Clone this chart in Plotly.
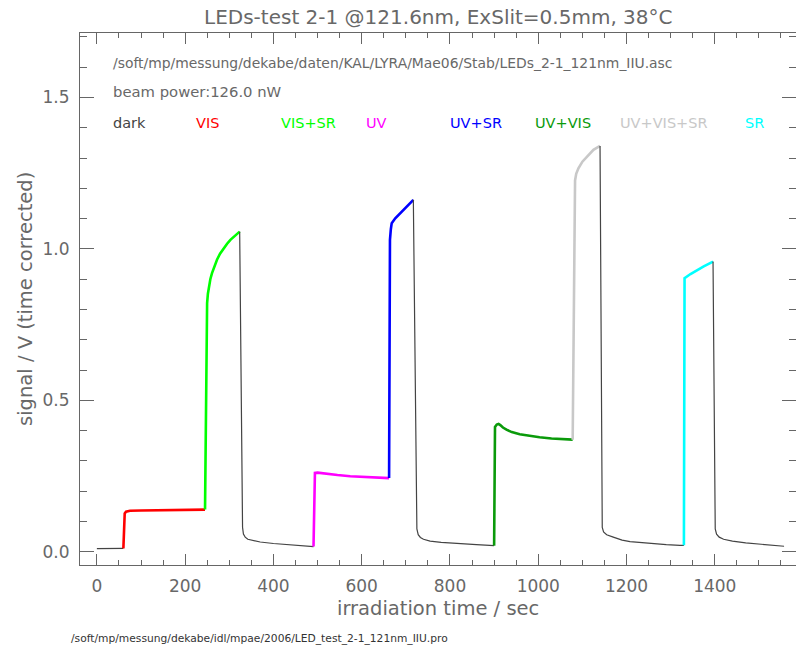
import plotly.graph_objects as go

# ---- measured signal per illumination phase (time in s, signal in V) ----
t_dark0 = [0, 20, 40, 60]
v_dark0 = [0.010, 0.010, 0.011, 0.011]

t_vis = [60, 61.5, 63, 66, 75, 100, 150, 200, 245]
v_vis = [0.011, 0.09, 0.126, 0.132, 0.135, 0.136, 0.137, 0.138, 0.139]

t_vis_sr = [245, 247, 249.7, 251.5, 253.4, 257, 260.8, 266, 272.1, 279, 287.3, 295,
            302.5, 312, 323.5]
v_vis_sr = [0.139, 0.55, 0.821, 0.852, 0.876, 0.900, 0.920, 0.944, 0.964, 0.984, 1.002,
            1.017, 1.030, 1.043, 1.057]

t_dark1 = [323.5, 326, 328.5, 330, 332, 336, 342, 355, 370, 400, 445, 490.8]
v_dark1 = [1.057, 0.70, 0.25, 0.08, 0.058, 0.048, 0.041, 0.036, 0.032, 0.027, 0.022, 0.017]

t_uv = [490.8, 492, 494, 500, 520, 545, 574, 620, 662]
v_uv = [0.017, 0.20, 0.260, 0.261, 0.257, 0.253, 0.249, 0.246, 0.243]

t_uv_sr = [662, 663, 664, 666, 668, 676, 687, 700, 717]
v_uv_sr = [0.243, 0.70, 1.030, 1.065, 1.085, 1.101, 1.118, 1.138, 1.162]

t_dark2 = [717, 720, 723, 725, 728, 733, 740, 755, 780, 820, 860, 900]
v_dark2 = [1.162, 0.70, 0.20, 0.075, 0.056, 0.047, 0.041, 0.035, 0.031, 0.026, 0.023, 0.020]

t_uv_vis = [900, 901, 902, 906, 910, 914, 920, 928, 940, 958, 980, 1003, 1030, 1049, 1078]
v_uv_vis = [0.020, 0.30, 0.412, 0.420, 0.422, 0.418, 0.410, 0.403, 0.395, 0.388, 0.382,
            0.378, 0.374, 0.372, 0.370]

t_uv_vis_sr = [1078, 1080, 1082, 1083.4, 1086, 1091, 1100, 1110, 1125, 1140]
v_uv_vis_sr = [0.370, 0.80, 1.200, 1.226, 1.248, 1.266, 1.288, 1.305, 1.327, 1.340]

t_dark3 = [1140, 1142.5, 1144, 1145, 1148, 1155, 1170, 1190, 1208, 1235, 1261, 1290, 1321, 1330]
v_dark3 = [1.340, 0.60, 0.20, 0.080, 0.065, 0.056, 0.048, 0.038, 0.033, 0.029, 0.025,
           0.023, 0.021, 0.021]

t_sr = [1330, 1330.7, 1331.5, 1345, 1360, 1375, 1396]
v_sr = [0.021, 0.50, 0.903, 0.917, 0.930, 0.942, 0.958]

t_dark4 = [1396, 1398, 1400, 1401, 1404, 1410, 1420, 1440, 1470, 1500, 1530, 1557]
v_dark4 = [0.958, 0.60, 0.20, 0.075, 0.058, 0.048, 0.041, 0.035, 0.029, 0.025, 0.021, 0.018]

# ---- legend row: LED combinations, their colours and label positions (s) ----
legend_labels = ["dark", "VIS", "VIS+SR", "UV", "UV+SR", "UV+VIS", "UV+VIS+SR", "SR"]
legend_colors = ["#444444", "#ff0000", "#00ff00", "#ff00ff", "#0000ff", "#0a9a0a",
                 "#c8c8c8", "#00ffff"]
legend_t = [31, 220, 413, 605, 796, 988, 1180, 1465]

title_text = "LEDs-test 2-1 @121.6nm, ExSlit=0.5mm, 38°C"
data_file = "/soft/mp/messung/dekabe/daten/KAL/LYRA/Mae06/Stab/LEDs_2-1_121nm_IIU.asc"
beam_text = "beam power:126.0 nW"
prog_file = "/soft/mp/messung/dekabe/idl/mpae/2006/LED_test_2-1_121nm_IIU.pro"

# ---- page geometry ----
W, H = 796, 647
ML, MR, MT, MB = 80, 0, 33, 82
PW, PH = W - ML - MR, H - MT - MB


def paper_x(px):
    return (px - ML) / PW


def paper_y(py):
    return (H - MB - py) / PH


FONT = "DejaVu Sans"
TXT = "#686868"
DARK = "#444444"

segments = [
    (t_dark0, v_dark0, DARK, 1.2),
    (t_vis, v_vis, legend_colors[1], 2.6),
    (t_vis_sr, v_vis_sr, legend_colors[2], 2.6),
    (t_dark1, v_dark1, DARK, 1.2),
    (t_uv, v_uv, legend_colors[3], 2.6),
    (t_uv_sr, v_uv_sr, legend_colors[4], 2.6),
    (t_dark2, v_dark2, DARK, 1.2),
    (t_uv_vis, v_uv_vis, legend_colors[5], 2.6),
    (t_uv_vis_sr, v_uv_vis_sr, legend_colors[6], 2.6),
    (t_dark3, v_dark3, DARK, 1.2),
    (t_sr, v_sr, legend_colors[7], 2.6),
    (t_dark4, v_dark4, DARK, 1.2),
]

fig = go.Figure()
for t, v, c, w in segments:
    fig.add_trace(go.Scatter(x=t, y=v, mode="lines", line=dict(color=c, width=w),
                             showlegend=False, hoverinfo="skip"))

annotations = [
    dict(x=31, y=1.614, xref="x", yref="y", text=data_file, showarrow=False,
         xanchor="left", yanchor="middle", font=dict(family=FONT, size=13.9, color=TXT)),
    dict(x=31, y=1.519, xref="x", yref="y", text=beam_text, showarrow=False,
         xanchor="left", yanchor="middle", font=dict(family=FONT, size=14.8, color=TXT)),
]
for lab, col, tx in zip(legend_labels, legend_colors, legend_t):
    annotations.append(dict(x=tx, y=1.416, xref="x", yref="y", text=lab, showarrow=False,
                            xanchor="left", yanchor="middle",
                            font=dict(family=FONT, size=14.5, color=col)))

annotations += [
    dict(x=0.5, y=paper_y(17), xref="paper", yref="paper", text=title_text,
         showarrow=False, xanchor="center", yanchor="middle",
         font=dict(family=FONT, size=20, color=TXT)),
    dict(x=0.5, y=paper_y(608), xref="paper", yref="paper", text="irradiation time / sec",
         showarrow=False, xanchor="center", yanchor="middle",
         font=dict(family=FONT, size=19.5, color=TXT)),
    dict(x=paper_x(25), y=0.5, xref="paper", yref="paper",
         text="signal / V (time corrected)", textangle=-90,
         showarrow=False, xanchor="center", yanchor="middle",
         font=dict(family=FONT, size=19.5, color=TXT)),
    dict(x=paper_x(69), y=paper_y(638), xref="paper", yref="paper", text=prog_file,
         showarrow=False, xanchor="left", yanchor="middle",
         font=dict(family=FONT, size=10.7, color="#333333")),
]

axis_common = dict(
    showline=True, linecolor="#666666", linewidth=1, mirror="ticks",
    ticks="inside", tickcolor="#666666", tickwidth=1,
    showgrid=False, zeroline=False,
    tickfont=dict(family=FONT, size=17, color=TXT),
)

fig.update_layout(
    width=W, height=H,
    margin=dict(l=ML, r=MR, t=MT, b=MB, pad=0),
    paper_bgcolor="white", plot_bgcolor="white",
    annotations=annotations,
    xaxis=dict(range=[-38.3, 1584], tick0=0, dtick=200, ticklen=11,
               minor=dict(tick0=0, dtick=50, ticks="inside", ticklen=5,
                          tickcolor="#666666", tickwidth=1, showgrid=False),
               ticklabelstandoff=6, **axis_common),
    yaxis=dict(range=[-0.044, 1.713], tick0=0, dtick=0.5, tickformat=".1f", ticklen=14,
               minor=dict(tick0=0, dtick=0.1, ticks="inside", ticklen=7,
                          tickcolor="#666666", tickwidth=1, showgrid=False),
               ticklabelstandoff=6, **axis_common),
)

fig.write_html("out.html")
